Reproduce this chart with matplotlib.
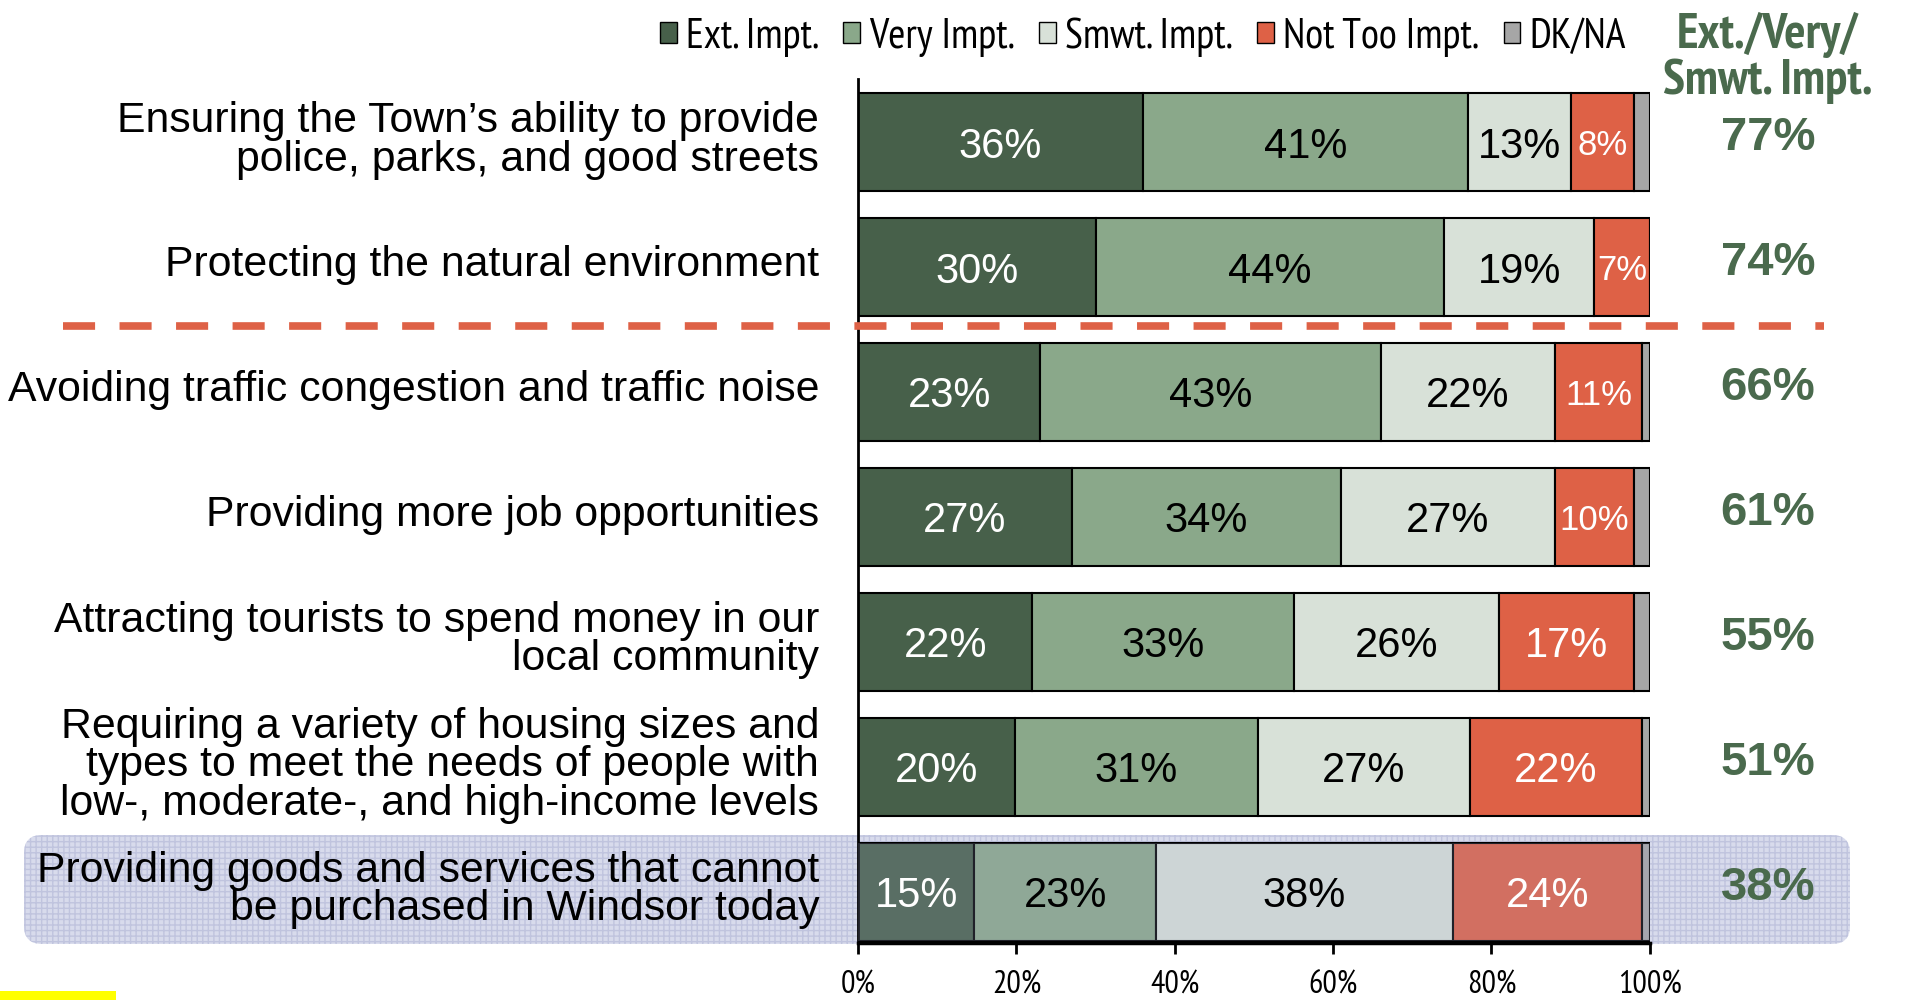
import matplotlib.pyplot as plt
from matplotlib import font_manager
from matplotlib.patches import Patch, FancyBboxPatch, Rectangle
from matplotlib.lines import Line2D
from matplotlib.transforms import blended_transform_factory, IdentityTransform, offset_copy

# Data
categories = [
    "Ensuring the Town\u2019s ability to provide\npolice, parks, and good streets",
    "Protecting the natural environment",
    "Avoiding traffic congestion and traffic noise",
    "Providing more job opportunities",
    "Attracting tourists to spend money in our\nlocal community",
    "Requiring a variety of housing sizes and\ntypes to meet the needs of people with\nlow-, moderate-, and high-income levels",
    "Providing goods and services that cannot\nbe purchased in Windsor today",
]
series_names = ["Ext. Impt.", "Very Impt.", "Smwt. Impt.", "Not Too Impt.", "DK/NA"]
ext_impt = [36, 30, 23, 27, 22, 19.8, 14.7]
very_impt = [41, 44, 43, 34, 33, 30.7, 22.9]
smwt_impt = [13, 19, 22, 27, 26, 26.8, 37.5]
not_too_impt = [8, 7, 11, 10, 17, 21.7, 23.9]
dk_na = [2, 0, 1, 2, 2, 1, 1]
totals = [77, 74, 66, 61, 55, 51, 38]
xticks = [0, 20, 40, 60, 80, 100]

colors = ["#47604a", "#8aa88a", "#d8e1d8", "#de6146", "#a6a6a6"]
label_colors = ["white", "black", "black", "white", None]
green_txt = "#4a6a4d"

# narrow face for legend / header / ticks
names = {f.name for f in font_manager.fontManager.ttflist}
narrow, nscale = "Liberation Sans", 0.82
for cand in ["Liberation Sans Narrow", "Arial Narrow", "PT Sans Narrow",
             "Roboto Condensed", "Archivo Narrow"]:
    if cand in names:
        narrow, nscale = cand, 1.0
        break
plt.rcParams["font.family"] = ["Liberation Sans", "DejaVu Sans"]

fig = plt.figure(figsize=(19.08, 10), dpi=100)
ax = fig.add_axes([0.4497, 0.057, 0.415, 0.864])
ax.patch.set_alpha(0)

series = [ext_impt, very_impt, smwt_impt, not_too_impt, dk_na]
ypos = list(range(len(categories)))
left = [0] * len(categories)
for vals, col, lc in zip(series, colors, label_colors):
    ax.barh(ypos, vals, left=left, height=0.78, color=col,
            edgecolor="black", linewidth=1.5, zorder=2)
    if lc is not None:
        for y, v, l in zip(ypos, vals, left):
            if v <= 0:
                continue
            fs = 30 if v >= 12 else 25
            ax.text(l + v / 2, y, f"{round(v)}%", ha="center", va="center_baseline",
                    color=lc, fontsize=fs, zorder=5)
    left = [a + b for a, b in zip(left, vals)]

ax.set_xlim(0, 100)
ax.set_ylim(6.41, -0.505)
ax.set_xticks(xticks)
ax.set_xticklabels([f"{t}%" for t in xticks], family=narrow, fontsize=23 * nscale)
ax.tick_params(axis="x", direction="out", length=8, width=2, pad=12)
ax.set_yticks([])
for s in ["top", "right"]:
    ax.spines[s].set_visible(False)
ax.spines["left"].set_linewidth(2)
ax.spines["bottom"].set_linewidth(2.5)

# category labels, right aligned left of the axis
lab_tr = offset_copy(blended_transform_factory(ax.transAxes, ax.transData),
                     fig=fig, x=-28, y=1.2, units="points")
for y, c in zip(ypos, categories):
    ax.text(0, y, c, transform=lab_tr, ha="right", va="center",
            fontsize=30.8, linespacing=0.95, zorder=5)

# right-hand totals
tr = blended_transform_factory(fig.transFigure, ax.transData)
tot_tr = offset_copy(tr, fig=fig, y=3, units="points")
for y, t in zip(ypos, totals):
    ax.text(0.9266, y, f"{t}%", transform=tot_tr, ha="center", va="center",
            fontsize=34, fontweight="bold", color=green_txt, zorder=5)
fig.text(0.9266, 0.942, "Ext./Very/\nSmwt. Impt.", ha="center", va="center",
         family=narrow, fontsize=36 * nscale, fontweight="bold",
         color=green_txt, linespacing=1.0)

# dashed separator
ax.add_line(Line2D([0.033, 0.956], [1.47, 1.47], transform=tr, color="#de6146",
                   linewidth=5.5, dashes=(4.2, 3.2), clip_on=False, zorder=4))

# highlight for last row
hl = FancyBboxPatch((24, 56), 1826, 109, boxstyle="round,pad=0,rounding_size=18",
                    transform=IdentityTransform(), facecolor="#d8dbec",
                    edgecolor="#c0c4de", linewidth=0, hatch="+++", zorder=-1)
fig.patches.append(hl)
ax.barh([6], [100], height=0.78, color="#a4a9d0", alpha=0.2, zorder=3, linewidth=0)

# legend
handles = [Patch(facecolor=c, edgecolor="black", linewidth=1) for c in colors]
fig.legend(handles, series_names, loc="center", bbox_to_anchor=(0.599, 0.963),
           ncol=5, frameon=False, handlelength=0.4, handleheight=0.4,
           handletextpad=0.22, columnspacing=0.58,
           prop={"family": narrow, "size": 30 * nscale})

fig.patches.append(Rectangle((0, 0), 0.061, 0.009, transform=fig.transFigure,
                             facecolor="#ffff00", edgecolor="none"))

fig.savefig("out.png", dpi=100)
